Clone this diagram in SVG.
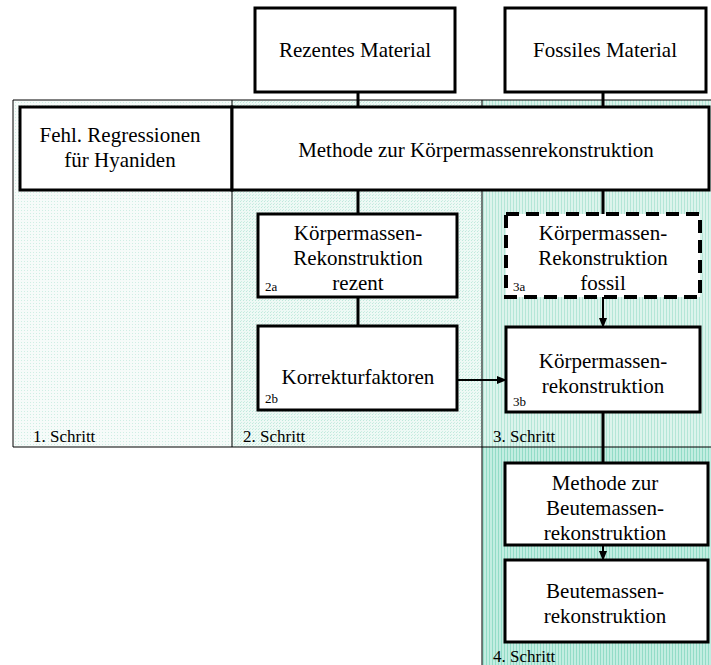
<svg xmlns="http://www.w3.org/2000/svg" width="711" height="665" viewBox="0 0 711 665">
  <style>
    .box { fill: #ffffff; stroke: #000000; stroke-width: 3; }
    .dash { fill: #ffffff; stroke: #000000; stroke-width: 4; stroke-dasharray: 13 7; }
    .frame { fill: none; stroke: #000000; stroke-width: 1; }
    .line { fill: none; stroke: #000000; stroke-width: 3; }
    .arrow { fill: none; stroke: #000000; stroke-width: 2; marker-end: url(#head); }
    .t { font-size: 21px; fill: #000000; text-anchor: middle; }
    .step { font-size: 17px; fill: #000000; }
    .num { font-size: 13px; fill: #000000; }
  </style>
  <defs>
    <marker id="head" markerWidth="10" markerHeight="8" refX="9" refY="4" orient="auto" markerUnits="userSpaceOnUse">
      <path d="M0,0 L10,4 L0,8 Z" fill="#000000"/>
    </marker>
    <pattern id="dots1" width="3" height="3" patternUnits="userSpaceOnUse">
      <rect width="3" height="3" fill="#f6fbf9"/>
      <rect width="1" height="1" fill="#cfeee4"/>
    </pattern>
    <pattern id="dots2" width="3" height="3" patternUnits="userSpaceOnUse">
      <rect width="3" height="3" fill="#eef9f5"/>
      <rect width="1" height="1" fill="#bfe9dc"/>
      <rect x="1" y="2" width="1" height="1" fill="#cdeee4"/>
    </pattern>
    <pattern id="dots3" width="3" height="3" patternUnits="userSpaceOnUse">
      <rect width="3" height="3" fill="#dcf4ec"/>
      <rect width="1" height="3" fill="#b4e6d7"/>
    </pattern>
    <pattern id="stripes4" width="3" height="3" patternUnits="userSpaceOnUse">
      <rect width="3" height="3" fill="#c2ede1"/>
      <rect width="1" height="3" fill="#92dcc7"/>
    </pattern>
  </defs>

  <g font-family="Liberation Serif, Times New Roman, serif">
  <!-- step columns -->
  <g id="columns">
    <rect x="13" y="100" width="219" height="347" fill="url(#dots1)"/>
    <rect x="232" y="100" width="250" height="347" fill="url(#dots2)"/>
    <rect x="482" y="100" width="229" height="347" fill="url(#dots3)"/>
    <rect x="482" y="447" width="229" height="218" fill="url(#stripes4)"/>
    <path class="frame" d="M13,100 H711 M13,100 V447 H711 M232,100 V447 M482,100 V665"/>
    <text class="step" x="33" y="442">1. Schritt</text>
    <text class="step" x="243" y="442">2. Schritt</text>
    <text class="step" x="493" y="442">3. Schritt</text>
    <text class="step" x="493" y="662">4. Schritt</text>
  </g>

  <!-- connectors -->
  <g id="connectors">
    <path class="line" d="M358,92 V107"/>
    <path class="line" d="M603,92 V107"/>
    <path class="line" d="M358,190 V214"/>
    <path class="line" d="M603,190 V214"/>
    <path class="line" d="M358,297 V326"/>
    <path class="line" d="M603,412 V463"/>
    <path class="arrow" d="M201,152 H265"/>
    <path class="arrow" d="M457,380 H506"/>
    <path class="arrow" d="M603,297 V327"/>
    <path class="arrow" d="M603,545 V560"/>
  </g>

  <g id="rezent">
    <rect class="box" x="255" y="8" width="200" height="84"/>
    <text class="t" x="355" y="57">Rezentes Material</text>
  </g>

  <g id="fossil">
    <rect class="box" x="505" y="8" width="201" height="84"/>
    <text class="t" x="605" y="57">Fossiles Material</text>
  </g>

  <g id="fehl">
    <rect class="box" x="20" y="107" width="212" height="83"/>
    <text class="t" x="120" y="142">Fehl. Regressionen</text>
    <text class="t" x="120" y="167">für Hyaniden</text>
  </g>

  <g id="methode">
    <rect class="box" x="232" y="107" width="477" height="83"/>
    <text class="t" x="476" y="157">Methode zur Körpermassenrekonstruktion</text>
  </g>

  <g id="kmr-rezent">
    <rect class="box" x="258" y="214" width="199" height="83"/>
    <text class="t" x="358" y="240">Körpermassen-</text>
    <text class="t" x="358" y="265">Rekonstruktion</text>
    <text class="t" x="358" y="290">rezent</text>
    <text class="num" x="265" y="291">2a</text>
  </g>

  <g id="kmr-fossil">
    <rect class="dash" x="506" y="214" width="194" height="83"/>
    <text class="t" x="603" y="240">Körpermassen-</text>
    <text class="t" x="603" y="265">Rekonstruktion</text>
    <text class="t" x="603" y="290">fossil</text>
    <text class="num" x="513" y="291">3a</text>
  </g>

  <g id="korrektur">
    <rect class="box" x="258" y="326" width="199" height="84"/>
    <text class="t" x="358" y="384">Korrekturfaktoren</text>
    <text class="num" x="265" y="403">2b</text>
  </g>

  <g id="kmr">
    <rect class="box" x="506" y="327" width="194" height="85"/>
    <text class="t" x="603" y="368">Körpermassen-</text>
    <text class="t" x="603" y="393">rekonstruktion</text>
    <text class="num" x="513" y="406">3b</text>
  </g>

  <g id="methode-beute">
    <rect class="box" x="505" y="463" width="203" height="82"/>
    <text class="t" x="605" y="490">Methode zur</text>
    <text class="t" x="605" y="515">Beutemassen-</text>
    <text class="t" x="605" y="540">rekonstruktion</text>
  </g>

  <g id="beute">
    <rect class="box" x="505" y="560" width="203" height="82"/>
    <text class="t" x="605" y="598">Beutemassen-</text>
    <text class="t" x="605" y="623">rekonstruktion</text>
  </g>
  </g>
</svg>
